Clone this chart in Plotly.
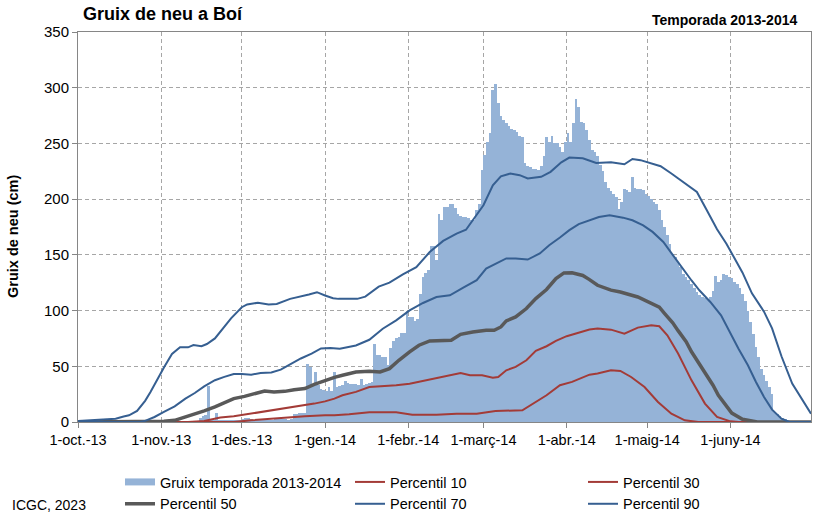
import plotly.graph_objects as go
import pandas as pd

# ---------------- data ----------------
season_start = pd.Timestamp('2013-10-01')
season_end = pd.Timestamp('2014-07-01')

# daily snow depth (cm), season 2013-2014, one value per day from 1-oct-2013
snow_depth = (
    [0] * 45 +
    [4, 5, 6, 32, 1, 1, 8, 2, 2, 1, 1, 1, 2, 2, 2, 2] +
    [3, 4, 4, 3, 2, 2, 2, 2, 2, 1, 1, 2, 3, 3, 4, 3, 3, 2, 3, 7, 7, 8, 8, 8] +
    [52, 49, 33, 45, 33, 30, 29] +
    [28, 31, 28, 45, 31, 32, 33, 37, 35, 34, 34, 34, 33, 39, 33, 34, 35, 36, 70, 60,
     60, 58, 58, 51, 66, 73, 75, 76, 80, 80, 100] +
    [94, 94, 91, 92, 115, 130, 134, 136, 158, 158, 145, 187, 181, 193, 193, 196, 196,
     192, 187, 185, 184, 184, 183, 181, 181, 190, 196, 226] +
    [240, 251, 259, 298, 303, 286, 275, 271, 268, 266, 263, 262, 260, 257, 256, 232,
     230, 229, 227, 227, 226, 230, 239, 256, 251, 257, 250, 250, 247, 242, 251, 259,
     251, 268, 290, 283, 269, 268, 262, 253, 244, 242, 239, 231, 225] +
    [215, 210, 207, 205, 202, 191, 197, 209, 208, 206, 220, 210, 209, 209, 208, 205,
     203, 200, 197, 196, 190, 181, 175, 168, 160, 151, 148, 144, 139, 133] +
    [130, 127, 124, 120, 117, 114, 112, 111, 110, 112, 118, 131, 126, 127, 133, 132,
     130, 129, 126, 124, 120, 115, 109, 100, 90, 79, 67, 58, 48, 42, 37, 31, 25, 9,
     7, 5, 4, 3] +
    [0] * 9
)

# percentile curves: day offset from 1-oct and value (cm)
p10_days = [0, 58, 64.5, 70.5, 77, 84.5, 92, 95.5, 101, 108.5, 118.5, 124.5, 133.5, 141,
            148.5, 155.5, 165.5, 169.5, 174.5, 179.5, 184, 190.5, 193.5, 198.5, 202, 206,
            211, 216, 221, 226, 231, 273]
p10_vals = [0, 0, 1.5, 2.7, 3.9, 5.1, 6, 6, 6.9, 8.7, 8.7, 6.6, 6.6, 7.5,
            7.5, 9.9, 10.5, 16.5, 24, 33, 36, 42.5, 43.5, 46.4, 45.8, 40.4,
            31.4, 18, 7.5, 1.5, 0, 0]

p30_days = [0, 41, 47, 53, 58, 64.5, 70.5, 77, 83, 88, 92, 95.5, 98.5, 103.5, 108.5,
            113.5, 118.5, 123.5, 128.5, 133.5, 138.5, 142.5, 146, 150.5, 154.5, 156.5,
            159.5, 163, 167, 170.5, 174.5, 178, 182, 186.5, 190.5, 193.5, 198.5, 203.5,
            208.5, 213.5, 216.5, 219.5, 223.5, 228.5, 233.5, 238, 243, 246, 273]
p30_vals = [0, 0, 1, 4, 5.1, 7.5, 9.6, 12, 14, 16.5, 18.5, 21, 24, 27, 31.4,
            32, 33, 34.4, 36.8, 39.8, 41.9, 44, 41.9, 41.9, 39.8, 40.4,
            46.4, 49.4, 55.4, 63.8, 68, 72.8, 77, 80, 83, 83.8, 82.9, 79.3,
            84.7, 86.8, 85.9, 77.8, 61.4, 37.4, 16.5, 4.5, 0.6, 0, 0]

p50_days = [0, 28, 32, 36, 40, 43.5, 47, 51, 54.5, 58, 62, 66, 69.5, 73, 77, 80.5, 84.5,
            88, 92, 95.5, 98.5, 103.5, 108.5, 112.5, 116, 119.5, 123.5, 127, 131, 134.5,
            139, 142.5, 147, 152, 155, 157.5, 159.5, 163, 167, 170.5, 174.5, 178, 181,
            184, 188, 190.5, 193.5, 198.5, 202, 208.5, 213.5, 216.5, 218.5, 221.5,
            223.5, 226.5, 228.5, 231.5, 233.5, 236.5, 238.5, 241, 243.5, 247.5, 251,
            253, 273]
p50_vals = [0, 0, 0.6, 1.5, 4.5, 6.9, 10, 13.5, 17, 21, 23, 26, 27.8, 27, 27.5, 29, 30,
            33.8, 37.5, 40, 42, 44.9, 45.5, 44.9, 47.9, 55.4, 62.9, 68.9, 72.8, 73.4,
            73.4, 78.7, 80.8, 82.3, 82.3, 85.3, 90.7, 94.3, 101.8, 110.8, 118.9, 128.7, 133.8,
            134, 131.5, 127.8, 122.7, 118.3, 116.7, 112.2, 106.3, 103, 97.3, 89,
            82, 72, 63, 52, 44, 33, 24, 16, 8, 2.5, 1,
            0, 0]

p70_days = [0, 23, 25, 28.5, 32, 36, 40, 43.5, 47, 51, 54.5, 58, 61, 64.5, 68, 72, 75.5,
            79.5, 83, 87, 90.5, 94, 97.5, 103.5, 108.5, 113.5, 118.5, 123.5, 128.5, 133.5,
            138.5, 143.5, 148.5, 152, 155.5, 159.5, 163, 167.5, 172, 175.5, 179.5, 183,
            186.5, 190.5, 194, 198, 203, 206.5, 210.5, 214, 218, 221.5, 225, 228.5, 231.5,
            235.5, 239.5, 243, 246, 249.5, 252.5, 255.5, 258.5, 262, 265, 273]
p70_vals = [0, 0, 1, 4.5, 9, 14, 21, 26, 32, 37.5, 40.5, 43, 43, 42.4, 44, 44.4, 47,
            52.4, 57, 61.4, 66, 66.5, 65.8, 68.7, 73.8, 83.7, 91.2, 100.2, 106.8, 112.2,
            113.7, 120.6, 127.3, 137.7, 142.2, 146.8, 146.8, 145.8, 151.2, 158.7, 165.6, 172.2,
            177.6, 181.3, 184, 185.5, 183.4, 181, 176.5, 170.6, 161.6, 150, 138, 127, 118,
            107.7, 95.8, 79.3, 65.8, 50.9, 35.9, 22.5, 11.1, 3, 0, 0]

p90_days = [0, 8, 14, 17, 19, 22, 25, 27, 29, 32, 35, 38, 41, 43, 46, 48, 51, 54, 57, 61,
            63, 67, 71, 74, 79, 86, 89, 92, 95, 97, 104, 107, 112, 116, 121, 126, 131, 136,
            141, 144.5, 147, 151, 154.5, 157.5, 161, 164.5, 167.5, 172.5, 176, 180, 183,
            188, 193, 198.5, 203.5, 206.5, 209.5, 213.5, 217, 221, 226, 230.5, 234, 238,
            241.5, 244, 247.5, 251, 255.5, 258.5, 262, 266, 270, 273]
p90_vals = [1, 2, 3, 5, 6, 10, 19, 27, 36, 49, 61, 67, 67, 69, 68, 70, 75, 84, 93, 103,
            105.5, 107, 105.5, 106, 110.5, 114.5, 116.5, 113.5, 111, 110.5, 110.5, 112.5,
            121.5, 125, 132.5, 139, 152.5, 162.5,
            169, 172.5, 181, 194.5, 212.5, 220.5, 223, 221.5, 218.5, 220, 224.5, 233, 237.3,
            236.7, 232.5, 233, 231.3, 236, 235, 232, 229.5, 223, 214, 206.5, 191, 173,
            160, 149, 134, 115.5, 99, 84, 59, 34.5, 19.5, 7.5]

tick_dates = ['2013-10-01', '2013-11-01', '2013-12-01', '2014-01-01', '2014-02-01',
              '2014-03-01', '2014-04-01', '2014-05-01', '2014-06-01']
tick_labels = ['1-oct.-13', '1-nov.-13', '1-des.-13', '1-gen.-14', '1-febr.-14',
               '1-març-14', '1-abr.-14', '1-maig-14', '1-juny-14']
y_ticks = [0, 50, 100, 150, 200, 250, 300, 350]

# ---------------- styles ----------------
BAR_C = '#95B3D7'
RED_C = '#A33B37'
BLUE_C = '#365F91'
GREY_C = '#595959'
AXIS_C = '#868686'
GRID_C = '#A6A6A6'
FONT = 'Liberation Sans, Arial, sans-serif'


def to_dates(days):
    return [season_start + pd.Timedelta(days=d) for d in days]


bar_dates = [season_start + pd.Timedelta(days=i, hours=12) for i in range(len(snow_depth))]

fig = go.Figure()
fig.add_trace(go.Bar(x=bar_dates, y=snow_depth, marker=dict(color=BAR_C, line=dict(width=0)),
                     width=86400000, showlegend=False, name='Gruix temporada 2013-2014'))

# legend swatch for the bars (wide rectangle like the original)
fig.add_trace(go.Scatter(x=[None], y=[None], mode='lines', line=dict(color=BAR_C, width=7),
                         name='Gruix temporada 2013-2014', legend='legend'))

lines = [
    ('Percentil 10', p10_days, p10_vals, RED_C, 2, 'legend2'),
    ('Percentil 30', p30_days, p30_vals, RED_C, 2, 'legend3'),
    ('Percentil 50', p50_days, p50_vals, GREY_C, 3.5, 'legend'),
    ('Percentil 70', p70_days, p70_vals, BLUE_C, 2, 'legend2'),
    ('Percentil 90', p90_days, p90_vals, BLUE_C, 2, 'legend3'),
]
for name, dd, vv, col, w, lg in lines:
    fig.add_trace(go.Scatter(x=to_dates(dd), y=vv, mode='lines', name=name,
                             line=dict(color=col, width=w), legend=lg))

axis_common = dict(showline=True, linecolor=AXIS_C, linewidth=1, mirror=True,
                   ticks='outside', ticklen=5, tickcolor=AXIS_C,
                   showgrid=True, gridcolor=GRID_C, gridwidth=1, griddash='4px,3px',
                   zeroline=False)

fig.update_xaxes(type='date', range=[season_start, season_end], tickvals=tick_dates,
                 ticktext=tick_labels, tickfont=dict(family=FONT, size=14.5, color='black'),
                 **axis_common)
fig.update_yaxes(range=[0, 350], tickvals=y_ticks,
                 tickfont=dict(family=FONT, size=15, color='black'), **axis_common)

PW, PH, ML, MB, MT = 733, 390, 78, 105, 32


def px_x(x):
    return (x - ML) / PW


def px_y(y):
    return (MT + PH - y) / PH


leg_common = dict(orientation='v', xanchor='left', yanchor='top', bgcolor='rgba(0,0,0,0)',
                  font=dict(family=FONT, size=14.5, color='black'), tracegroupgap=0)
fig.update_layout(
    width=815, height=527,
    margin=dict(l=ML, r=4, t=MT, b=MB),
    paper_bgcolor='white', plot_bgcolor='white',
    bargap=0,
    font=dict(family=FONT, size=14, color='black'),
    legend=dict(x=px_x(120), y=px_y(466), **leg_common),
    legend2=dict(x=px_x(350), y=px_y(466), **leg_common),
    legend3=dict(x=px_x(583), y=px_y(466), **leg_common),
    annotations=[
        dict(text='<b>Gruix de neu a Boí</b>', xref='paper', yref='paper',
             x=px_x(81), y=px_y(14), xanchor='left', yanchor='middle', showarrow=False,
             font=dict(family=FONT, size=18, color='black')),
        dict(text='<b>Temporada 2013-2014</b>', xref='paper', yref='paper',
             x=px_x(799), y=px_y(20), xanchor='right', yanchor='middle', showarrow=False,
             font=dict(family=FONT, size=14, color='black')),
        dict(text='<b>Gruix de neu (cm)</b>', xref='paper', yref='paper',
             x=px_x(13), y=px_y(237), xanchor='center', yanchor='middle', showarrow=False,
             textangle=-90, font=dict(family=FONT, size=14.5, color='black')),
        dict(text='ICGC, 2023', xref='paper', yref='paper',
             x=px_x(10), y=px_y(505), xanchor='left', yanchor='middle', showarrow=False,
             font=dict(family=FONT, size=14, color='black')),
    ],
)

fig.write_html('out.html', config={'displayModeBar': False},
               post_script="document.body.style.margin='0px';")
